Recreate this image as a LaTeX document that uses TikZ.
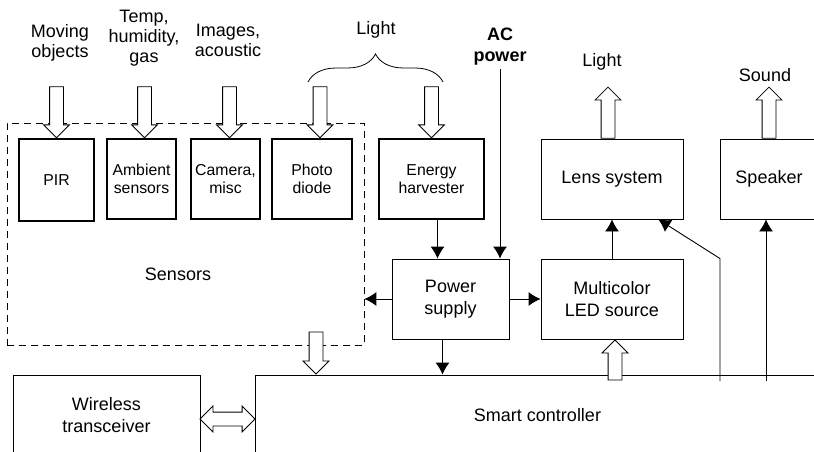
\documentclass[tikz,border=0pt]{standalone}
\usepackage{fontspec}
\setmainfont{Liberation Sans}
\usetikzlibrary{arrows.meta, shapes.arrows, decorations.pathreplacing, calc}

\begin{document}
\begin{tikzpicture}[x=1pt, y=-1pt, line width=0.9pt,
    font=\fontsize{18}{21.5}\selectfont,
    box/.style={draw, align=center, minimum height=80pt},
    sbox/.style={box, line width=1.3pt, font=\fontsize{15.8}{18.3}\selectfont},
    lbl/.style={align=center, font=\fontsize{18}{20}\selectfont},
    hollow/.style={single arrow, draw, fill=white, line width=0.8pt, inner xsep=0pt, inner ysep=6.5pt,
      single arrow head extend=6pt},
    arr/.style={-{Latex[length=12pt, width=14pt]}}]
  \useasboundingbox (0,0) rectangle (814,452);
  \clip (0,0) rectangle (814,452);
  % sensor group
  \node[draw, dash pattern=on 7pt off 5pt, line width=0.8pt, minimum width=357pt, minimum height=222pt] (sens) at (185.5,234) {};
  \node (senslbl) at (178,274) {Sensors};
  \node[sbox, minimum width=75pt, minimum height=82pt] (pir) at (56.5,180) {PIR};
  \node[sbox, minimum width=69pt] (amb) at (141.5,179) {Ambient\\sensors};
  \node[sbox, minimum width=69pt] (cam) at (225.5,179) {Camera,\\misc};
  \node[sbox, minimum width=80pt] (pho) at (312,179) {Photo\\diode};
  \node[sbox, minimum width=105pt] (harv) at (431.5,179) {Energy\\harvester};
  % outputs
  \node[box, minimum width=142pt] (lens) at (612,179) {Lens system};
  \node[box, minimum width=98pt] (spk) at (769,179) {Speaker};
  \node[box, minimum width=117pt] (pwr) at (450.5,299) {Power\\supply};
  \node[box, minimum width=142pt] (led) at (612,299) {Multicolor\\LED source};
  \node[box, minimum width=187pt] (wls) at (106.5,415) {Wireless\\transceiver};
  \node[box, minimum width=565pt] (ctrl) at (537.5,415) {Smart controller};
  % inputs from outside
  \node[lbl] (mov) at (60,42.5) {Moving\\objects};
  \node[lbl] (temp) at (144,38) {Temp,\\humidity,\\gas};
  \node[lbl] (img) at (228,40) {Images,\\acoustic};
  \node[lbl] (lightin) at (376,30) {Light};
  \node[lbl, font=\bfseries\fontsize{18}{21}\selectfont] (ac) at (500,47) {AC\\power};
  \node[lbl] (lightout) at (602,62) {Light};
  \node[lbl] (sound) at (765,75) {Sound};
  \draw[line width=0.8pt, decorate, decoration={brace, amplitude=28pt}] (308,82) -- (443,82);
  \foreach \b/\dx in {pir/0, amb/3, cam/4, pho/8, harv/0}
    \node[hollow, minimum height=51pt, rotate=-90, anchor=tip] (in-\b) at ([xshift=\dx pt]\b.north) {};
  \node[hollow, minimum height=51pt, rotate=90, anchor=tail] (out-lens) at ([xshift=-4pt]lens.north) {};
  \node[hollow, minimum height=51pt, rotate=90, anchor=tail] (out-spk) at (spk.north) {};
  \node[hollow, minimum height=40pt, rotate=90, anchor=tip] (ctrl-led) at ([xshift=3pt]led.south) {};
  \node[hollow, minimum height=42pt, rotate=-90, anchor=tip] (sens-ctrl) at ($(pho.south |- ctrl.north)+(4,0)$) {};
  \node[double arrow, draw, fill=white, line width=0.8pt, inner xsep=0pt, inner ysep=6.5pt,
    double arrow head extend=6pt, minimum height=55pt] (wls-ctrl) at ($(wls.east)!.5!(ctrl.west |- wls.east)+(0,4)$) {};
  % power and control lines
  \draw[arr] ([xshift=6pt]harv.south) -- ([xshift=6pt]harv.south |- pwr.north);
  \draw[arr] (ac.south) -- (ac.south |- pwr.north);
  \draw[arr] (pwr.west) -- (pwr.west -| sens.east);
  \draw[arr] (pwr.east) -- (led.west);
  \draw[arr] ([xshift=-8pt]pwr.south) -- ([xshift=-8pt]pwr.south |- ctrl.north);
  \draw[arr] (led.north) -- (lens.south);
  \coordinate (c-lens) at (720,381);
  \coordinate (c-spk) at (766,381);
  \draw[arr] (c-lens) -- (c-lens |- led.north) -- ($(lens.south)!.65!(lens.south east)$);
  \draw[arr] (c-spk) -- (c-spk |- spk.south);
\end{tikzpicture}
\end{document}
